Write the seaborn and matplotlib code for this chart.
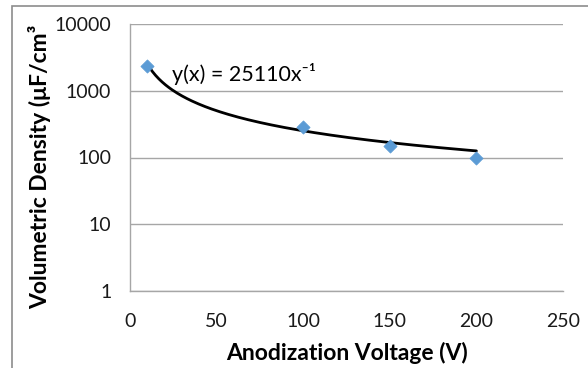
import numpy as np
import pandas as pd
import matplotlib
matplotlib.use("Agg")
import matplotlib.pyplot as plt
import seaborn as sns
from matplotlib.patches import Rectangle

# Data
voltage = [10, 100, 150, 200]
density = [2350, 290, 150, 100]
fit_coef = 25110
fit_exp = -1.0
fit_label = "y(x) = 25110x⁻¹"
x_ticks = [0, 50, 100, 150, 200, 250]
y_ticks = [1, 10, 100, 1000, 10000]
y_tick_labels = ["1", "10", "100", "1000", "10000"]

sns.set_theme(style="white")
plt.rcParams['font.family'] = ['Lato', 'DejaVu Sans']

W, H = 588, 368
fig = plt.figure(figsize=(W / 100, H / 100), dpi=100)
ax = fig.add_axes([130 / W, 1 - 291 / H, (563 - 130) / W, (291 - 24) / H])

# figure border
fig.patches.append(Rectangle((12 / W, -0.1), 1.0, 1 - 6 / H + 0.1,
                             transform=fig.transFigure, fill=False,
                             edgecolor="#8c8c8c", linewidth=1.2, clip_on=False))

df = pd.DataFrame({"voltage": voltage, "density": density})
xf = np.linspace(min(voltage), max(voltage), 200)
fit_df = pd.DataFrame({"voltage": xf, "density": fit_coef * xf ** fit_exp})

ax.set_yscale("log")
sns.lineplot(data=fit_df, x="voltage", y="density", ax=ax, color="black",
             linewidth=2.0, zorder=2)
sns.scatterplot(data=df, x="voltage", y="density", ax=ax, marker="D",
                color="#5B9BD5", s=45, edgecolor="#5B9BD5", zorder=3)

ax.set_xlim(0, 250)
ax.set_ylim(1, 10000)
ax.set_xticks(x_ticks)
ax.set_xticklabels([str(t) for t in x_ticks])
ax.set_yticks(y_ticks)
ax.set_yticklabels(y_tick_labels)
ax.yaxis.set_minor_locator(matplotlib.ticker.NullLocator())

ax.grid(axis="y", color="#a6a6a6", linewidth=1.0)
ax.grid(axis="x", visible=False)
for s in ["top", "right"]:
    ax.spines[s].set_visible(False)
for s in ["left", "bottom"]:
    ax.spines[s].set_color("#a6a6a6")
    ax.spines[s].set_linewidth(1.0)

ax.tick_params(axis="both", which="major", direction="out", length=5,
               width=1.0, color="#a6a6a6", labelsize=14, labelcolor="#1a1a1a")
ax.tick_params(axis="x", pad=11)
ax.tick_params(axis="y", pad=8.5)

ax.set_xlabel("")
ax.set_ylabel("")
fig.text(347 / W, 1 - 353 / H, "Anodization Voltage (V)", fontsize=16.5,
         fontweight="bold", ha="center", va="center", color="black")
fig.text(40 / W, 1 - 167 / H, "Volumetric Density (μF/cm³", rotation=90,
         fontsize=16.5, fontweight="bold", ha="center", va="center", color="black")

fig.text(172 / W, 1 - 81 / H, fit_label, fontsize=15.5, color="black",
         ha="left", va="baseline")

fig.savefig("out.png", dpi=100)
